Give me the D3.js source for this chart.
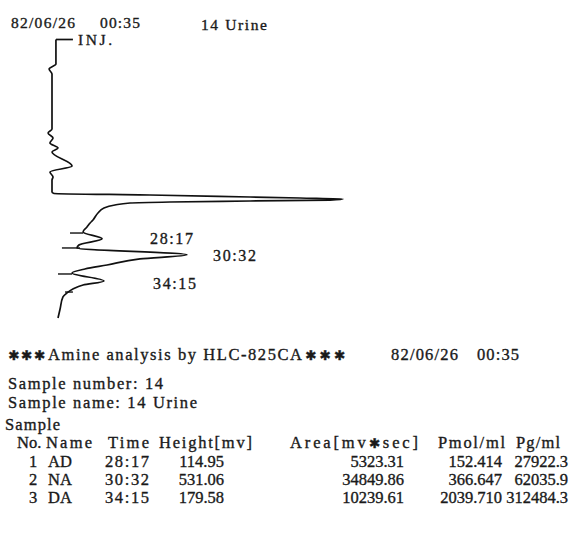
<!DOCTYPE html>
<html><head><meta charset="utf-8">
<script src="https://cdn.jsdelivr.net/npm/d3@7"></script>
<style>
html,body{margin:0;padding:0;background:#fff;}
svg{display:block;}
text{font-family:"Liberation Serif","DejaVu Serif",serif;fill:#1a1a1a;stroke:#1a1a1a;stroke-width:0.35px;}
.star{font-family:"DejaVu Sans",sans-serif;}
</style></head>
<body><svg id="c" width="570" height="536"></svg>
<script>
// ---- chromatogram trace (time in minutes, signal in mV) ----
const traceTime   = [0.00,3.48,4.18,4.89,12.70,13.26,13.97,14.68,15.39,15.96,17.94,18.79,19.50,19.93,21.63,21.84,22.06,22.34,22.48,22.62,22.77,22.91,23.05,23.19,23.48,23.90,24.61,25.60,26.03,26.60,27.30,28.28,29.15,29.57,30.53,31.13,31.99,32.55,33.12,34.25,34.82,35.39,35.96,36.52,38.23,39.50];
const traceSignal = [19,19,-14,0,0,-19,5,-10,29,0,97,-10,5,0,0,10,473,957,1198,1406,1343,957,570,377,304,251,222,198,184,169,150,242,130,121,652,425,266,159,97,251,150,101,72,53,39,29];
// peak boundary markers
const markerTime = [27.45,29.57,33.26,35.82];
const markerFrom = [87,48,29,63];
const markerTo   = [150,135,97,101];
// ---- result table ----
const peakNo     = [1,2,3];
const peakNames  = ["AD","NA","DA"];
const peakTimes  = ["28:17","30:32","34:15"];
const heights    = [114.95,531.06,179.58];
const areas      = [5323.31,34849.86,10239.61];
const pmol       = [152.414,366.647,2039.710];
const pg         = [27922.3,62035.9,312484.3];
const headers    = ["No.","Name","Time","Height[mv]","Area[mv*sec]","Pmol/ml","Pg/ml"];
const runDate = "82/06/26", runClock = "00:35", sampleNumber = "14", sampleName = "14 Urine";

const svg = d3.select("#c");
const y = d3.scaleLinear().domain([0,40]).range([39.5,39.5+40*7.05]);
const x = d3.scaleLinear().domain([0,1450]).range([52,52+1450*0.207]);

const pts = traceTime.map((t,i)=>({t,s:traceSignal[i]}));
const line = d3.line().x(d=>x(d.s)).y(d=>y(d.t)).curve(d3.curveMonotoneY);
svg.append("path").attr("d",line(pts)).attr("fill","none").attr("stroke","#111")
  .attr("stroke-width",1.7).attr("stroke-linejoin","round");
// INJ tick
svg.append("line").attr("x1",x(traceSignal[0])).attr("x2",x(traceSignal[0])+17)
  .attr("y1",y(traceTime[0])).attr("y2",y(traceTime[0])).attr("stroke","#111").attr("stroke-width",1.7);
// boundary markers
svg.selectAll("line.m").data(markerTime).join("line").attr("class","m")
  .attr("x1",(d,i)=>x(markerFrom[i])).attr("x2",(d,i)=>x(markerTo[i]))
  .attr("y1",d=>y(d)).attr("y2",d=>y(d)).attr("stroke","#111").attr("stroke-width",1.4);

const T = (str,xx,yy,opt={})=>{
  const t = svg.append("text").attr("x",xx).attr("y",yy)
    .style("font-size",(opt.size||16.5)+"px");
  // render '*' as a heavy centred asterisk like the printer glyph
  const parts = str.split(/(\*)/);
  parts.forEach(p=>{
    if(p==="*") t.append("tspan").attr("class","star").style("font-size",((opt.size||16.5)*0.82)+"px").text("\u2731");
    else if(p) t.append("tspan").text(p);
  });
  if(opt.anchor) t.attr("text-anchor",opt.anchor);
  if(opt.len) t.attr("textLength",opt.len).attr("lengthAdjust","spacing");
  return t;
};
// header
T(runDate,11,28,{size:15.5,len:64});
T(runClock,100,28,{size:15.5,len:40});
T(sampleName,201,30,{size:15.5,len:66});
T("INJ.",78,45,{size:15.5,len:34});
// peak labels
const toMin = s=>{const [m,sec]=s.split(":").map(Number);return m+sec/60;};
const labelX=[150,213,153], labelDy=[5,6,8];
peakTimes.forEach((p,i)=>T(p,labelX[i],y(toMin(p))+labelDy[i],{size:16,len:43}));

// report text
T("***",8,360,{len:37});
T("Amine analysis by HLC-825CA",48,360,{len:254});
T("***",305,360,{len:40});
T(runDate,391,360,{len:67});
T(runClock,477,360,{len:42});
T("Sample number: "+sampleNumber,8,389,{len:155});
T("Sample name: "+sampleName,8,408,{len:189});
T("Sample",5,430,{len:55});
const hx=[17,46,108,159,290,438,516], hl=[null,46,41,93,128,67,44];
headers.forEach((h,i)=>T(h,hx[i],448,hl[i]?{len:hl[i]}:{}));
const rowY=[467,485,503];
const f2=d3.format(".2f"), f3=d3.format(".3f"), f1=d3.format(".1f");
peakNo.forEach((n,i)=>{
  T(String(n),33,rowY[i],{anchor:"middle"});
  T(peakNames[i],60,rowY[i],{anchor:"middle"});
  T(peakTimes[i],105,rowY[i],{len:44});
  T(f2(heights[i]),224,rowY[i],{anchor:"end"});
  T(f2(areas[i]),404,rowY[i],{anchor:"end"});
  T(f3(pmol[i]),502,rowY[i],{anchor:"end"});
  T(f1(pg[i]),568,rowY[i],{anchor:"end"});
});
</script></body></html>
